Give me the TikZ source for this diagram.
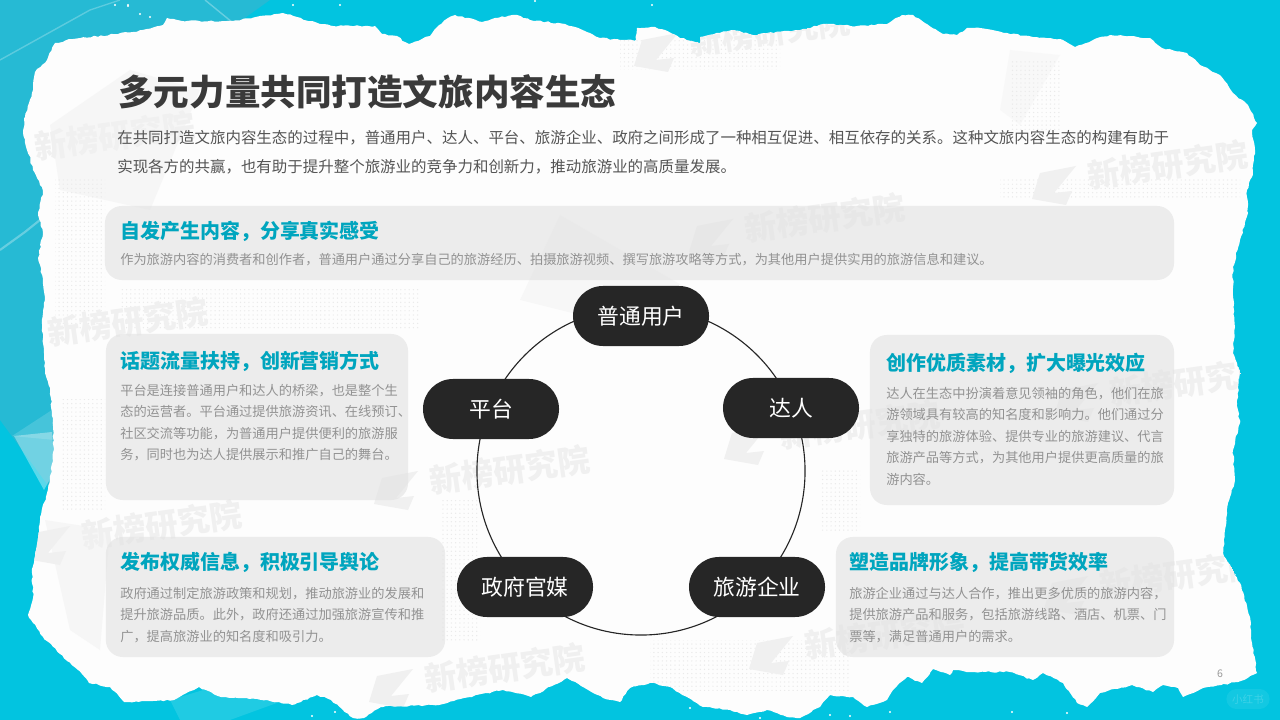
\documentclass[tikz,border=0pt]{standalone}
\usepackage{fontspec}
\setmainfont{Noto Sans CJK SC}
\usetikzlibrary{shapes.misc,patterns,decorations.pathmorphing}
\definecolor{seacyan}{RGB}{2,196,224}
\definecolor{filmcyan}{RGB}{38,186,212}
\definecolor{paperwhite}{RGB}{253,253,253}
\definecolor{creasegray}{RGB}{242,242,242}
\definecolor{markgray}{RGB}{240,240,240}
\definecolor{dotgray}{RGB}{234,234,234}
\definecolor{cardgray}{RGB}{226,226,226}
\definecolor{inkdark}{RGB}{58,58,58}
\definecolor{inkbody}{RGB}{85,85,85}
\definecolor{inkcard}{RGB}{146,146,146}
\definecolor{headcyan}{RGB}{0,165,190}
\definecolor{pillblack}{RGB}{38,38,38}
\def\paperpath{(23, 133) -- (25, 117) -- (33, 90) -- (35, 72) -- (47, 60) -- (55, 43) -- (73, 39) -- (133, 32)
        -- (163, 25) -- (167, 18) -- (187, 21) -- (233, 21) -- (283, 13) -- (320, 24) -- (333, 26)
        -- (365, 26) -- (375, 26) -- (382, 34) -- (397, 36) -- (405, 42) -- (409, 44) -- (430, 36)
        -- (436, 28) -- (448, 18) -- (455, 15) -- (482, 22) -- (495, 18) -- (517, 15) -- (530, 20)
        -- (565, 24) -- (575, 27) -- (590, 33) -- (600, 38) -- (620, 40) -- (636, 40) -- (637, 28)
        -- (655, 27) -- (665, 30) -- (680, 38) -- (700, 43) -- (700, 37) -- (733, 30) -- (753, 35)
        -- (767, 33) -- (800, 30) -- (823, 24) -- (857, 26) -- (887, 24) -- (902, 15) -- (913, 15)
        -- (927, 24) -- (943, 34) -- (957, 35) -- (967, 28) -- (980, 28) -- (1007, 33) -- (1033, 37)
        -- (1060, 39) -- (1075, 47) -- (1093, 40) -- (1110, 35) -- (1150, 38) -- (1162, 48) -- (1187, 53)
        -- (1200, 65) -- (1220, 75) -- (1233, 93) -- (1248, 105) -- (1257, 123) -- (1252, 130) -- (1255, 150)
        -- (1252, 177) -- (1247, 190) -- (1248, 213) -- (1240, 240) -- (1233, 267) -- (1233, 297) -- (1235, 327)
        -- (1233, 353) -- (1240, 373) -- (1237, 403) -- (1240, 423) -- (1233, 450) -- (1235, 480) -- (1228, 503)
        -- (1225, 530) -- (1223, 553) -- (1240, 583) -- (1250, 617) -- (1252, 643) -- (1257, 673) -- (1238, 682)
        -- (1203, 688) -- (1183, 697) -- (1178, 688) -- (1163, 685) -- (1153, 692) -- (1132, 685) -- (1100, 693)
        -- (1087, 707) -- (1077, 703) -- (1063, 683) -- (1043, 673) -- (1033, 680) -- (1010, 672) -- (973, 672)
        -- (953, 670) -- (950, 675) -- (933, 669) -- (922, 683) -- (907, 677) -- (893, 690) -- (887, 700)
        -- (867, 707) -- (853, 697) -- (830, 695) -- (820, 707) -- (800, 718) -- (787, 717) -- (767, 710)
        -- (747, 715) -- (730, 710) -- (703, 707) -- (670, 687) -- (650, 683) -- (630, 688) -- (620, 702)
        -- (603, 698) -- (567, 678) -- (531, 697) -- (503, 690) -- (464, 698) -- (439, 705) -- (381, 707)
        -- (364, 718) -- (353, 718) -- (331, 700) -- (317, 695) -- (292, 705) -- (267, 700) -- (221, 697)
        -- (199, 687) -- (174, 700) -- (124, 702) -- (110, 687) -- (89, 683) -- (78, 670) -- (60, 654)
        -- (43, 637) -- (28, 615) -- (33, 598) -- (32, 573) -- (38, 538) -- (40, 517) -- (47, 493)
        -- (53, 461) -- (53, 426) -- (50, 388) -- (45, 373) -- (43, 338) -- (42, 324) -- (45, 300)
        -- (43, 279) -- (38, 258) -- (43, 233) -- (38, 215) -- (43, 191) -- (33, 170) -- cycle}

\begin{document}
\begin{tikzpicture}[x=0.025cm,y=-0.025cm]
    \tikzstyle{pill} = [rounded rectangle, fill=pillblack, text=white, minimum width=3.4cm, minimum height=1.5cm, inner sep=0pt, font=\fontsize{15.5}{18}\selectfont]
    \tikzstyle{card} = [rounded corners=12pt, fill=cardgray, fill opacity=.62, inner sep=0pt]
    \tikzstyle{cardhead} = [anchor=west, inner sep=0pt, text=headcyan, font=\fontsize{14.2}{17}\selectfont\bfseries]
    \tikzstyle{cardtext} = [anchor=north west, inner sep=0pt, align=left, text=inkcard, font=\fontsize{9.4}{15.2}\selectfont]
    \tikzstyle{wmark} = [rotate=8, text=markgray, inner sep=0pt, font=\fontsize{23}{26}\selectfont\bfseries]

    \useasboundingbox (0, 0) rectangle (1280, 720);
    \fill[seacyan] (0, 0) rectangle (1280, 720);

    % plastic film on the left
    \fill[filmcyan] (0, 0) -- (270, 0) -- (200, 50) -- (60, 300) -- (55, 495) -- (0, 420) -- cycle;
    \fill[white, opacity=.15] (12, 436) -- (55, 408) -- (55, 440) -- cycle;
    \fill[white, opacity=.35] (14, 436) -- (52, 432) -- (55, 470) -- (44, 490) -- cycle;
    \draw[white, opacity=.3, line width=1.5pt] (0, 250) -- (25, 232) -- (45, 216);
    \draw[white, opacity=.25, line width=1pt] (0, 60) -- (90, 10) -- (120, 0);
    \draw[white, opacity=.3, line width=1pt] (205, 0) -- (260, 45);
    \fill[white, opacity=.12] (170, 700) -- (210, 688) -- (285, 700) -- (230, 720) -- (180, 720) -- cycle;
    \foreach \x/\y in {115/5, 128/5, 140/14, 150/17, 128/6, 293/5, 340/5, 535/1, 652/5, 1012/712, 1067/713, 890/712, 830/715, 850/716, 760/718, 690/708, 312/716, 335/712} {
        \fill[white] (\x, \y) circle (1.2);
    }

    % torn paper
    \pgfmathsetseed{7}
    \fill[paperwhite, decorate, decoration={random steps, segment length=2.5pt, amplitude=.55pt}] \paperpath;

    \begin{scope}
        \clip \paperpath;
        % creases and halftone
        \fill[creasegray, opacity=.6] (50, 125) -- (130, 70) -- (200, 90) -- (150, 210) -- (60, 190) -- cycle;
        \fill[creasegray, opacity=.4] (1010, 50) -- (1060, 55) -- (1020, 125) -- (1000, 110) -- cycle;
        \fill[creasegray, opacity=.6] (45, 520) -- (110, 530) -- (100, 650) -- (70, 630) -- cycle;
        \fill[creasegray, opacity=.5] (560, 215) -- (690, 290) -- (640, 330) -- (520, 300) -- cycle;
        \foreach \ax/\ay/\bx/\by in {55/180/105/330, 60/400/105/510, 120/290/420/330, 620/40/780/70, 1010/60/1060/130, 1000/180/1240/200, 650/640/850/690, 440/500/480/640, 820/470/860/530} {
            \fill[pattern=dots, pattern color=dotgray] (\ax, \ay) rectangle (\bx, \by);
        }

        % watermarks
        \foreach \x/\y in {825/218, 1168/165, 510/470, 162/525, 128/322, 505/668, 770/32, 1190/382, 1180/575, 860/425, 115/136, 885/635} {
            \node[wmark] (wm\x) at (\x, \y) {新榜研究院};
            \fill[markgray] (\x-128, \y+8) -- (\x-92, \y+1) -- (\x-114, \y+28) -- (\x-96, \y+26) -- (\x-102, \y+40) -- (\x-136, \y+34) -- cycle;
        }
    \end{scope}

    % heading
    \node[anchor=west, inner sep=0pt, text=inkdark, font=\fontsize{25.3}{30}\selectfont\bfseries] (title) at (118, 92) {多元力量共同打造文旅内容生态};
    \node[anchor=north west, inner sep=0pt, align=left, text=inkbody, font=\fontsize{11}{20.6}\selectfont] (intro) at (117, 130)
        {在共同打造文旅内容生态的过程中，普通用户、达人、平台、旅游企业、政府之间形成了一种相互促进、相互依存的关系。这种文旅内容生态的构建有助于\\
         实现各方的共赢，也有助于提升整个旅游业的竞争力和创新力，推动旅游业的高质量发展。};

    % cards
    \node[card, minimum width=26.72cm, minimum height=1.85cm] (usercard) at (639.5, 243) {};
    \node[card, minimum width=7.55cm, minimum height=4.15cm] (platformcard) at (257, 417) {};
    \node[card, minimum width=8.48cm, minimum height=3cm] (govcard) at (275.5, 597) {};
    \node[card, minimum width=7.6cm, minimum height=4.25cm] (creatorcard) at (1022, 420) {};
    \node[card, minimum width=8.45cm, minimum height=3cm] (bizcard) at (1005, 597) {};

    \node[cardhead] (userhead) at (120, 231) {自发产生内容，分享真实感受};
    \node[anchor=west, inner sep=0pt, text=inkcard, font=\fontsize{9.4}{12}\selectfont] (usertext) at (120, 260)
        {作为旅游内容的消费者和创作者，普通用户通过分享自己的旅游经历、拍摄旅游视频、撰写旅游攻略等方式，为其他用户提供实用的旅游信息和建议。};

    \node[cardhead] (platformhead) at (120, 361) {话题流量扶持，创新营销方式};
    \node[cardtext] (platformtext) at (120, 384)
        {平台是连接普通用户和达人的桥梁，也是整个生\\
         态的运营者。平台通过提供旅游资讯、在线预订、\\
         社区交流等功能，为普通用户提供便利的旅游服\\
         务，同时也为达人提供展示和推广自己的舞台。};

    \node[cardhead] (govhead) at (120, 562) {发布权威信息，积极引导舆论};
    \node[cardtext] (govtext) at (120, 587)
        {政府通过制定旅游政策和规划，推动旅游业的发展和\\
         提升旅游品质。此外，政府还通过加强旅游宣传和推\\
         广，提高旅游业的知名度和吸引力。};

    \node[cardhead] (creatorhead) at (886, 363) {创作优质素材，扩大曝光效应};
    \node[cardtext] (creatortext) at (886, 387)
        {达人在生态中扮演着意见领袖的角色，他们在旅\\
         游领域具有较高的知名度和影响力。他们通过分\\
         享独特的旅游体验、提供专业的旅游建议、代言\\
         旅游产品等方式，为其他用户提供更高质量的旅\\
         游内容。};

    \node[cardhead] (bizhead) at (849, 562) {塑造品牌形象，提高带货效率};
    \node[cardtext] (biztext) at (849, 587)
        {旅游企业通过与达人合作，推出更多优质的旅游内容，\\
         提供旅游产品和服务，包括旅游线路、酒店、机票、门\\
         票等，满足普通用户的需求。};

    % ring and pills
    \node[circle, draw=pillblack, line width=.8pt, minimum size=8.2cm, inner sep=0pt] (ring) at (641, 471) {};
    \node[pill] (user) at (641, 316) {普通用户};
    \node[pill] (creator) at (791, 408) {达人};
    \node[pill] (biz) at (757, 587) {旅游企业};
    \node[pill] (gov) at (525, 587) {政府官媒};
    \node[pill] (platform) at (491, 409) {平台};

    \node[text=gray!80, inner sep=0pt, font=\fontsize{7.5}{9}\selectfont] (pagenum) at (1220, 674) {6};
    \node[rounded rectangle, fill=white, fill opacity=.07, text opacity=.18, text=white, minimum width=1.08cm, minimum height=.5cm, inner sep=0pt, font=\fontsize{7.5}{9}\selectfont] (badge) at (1248, 699) {小红书};
\end{tikzpicture}
\end{document}
